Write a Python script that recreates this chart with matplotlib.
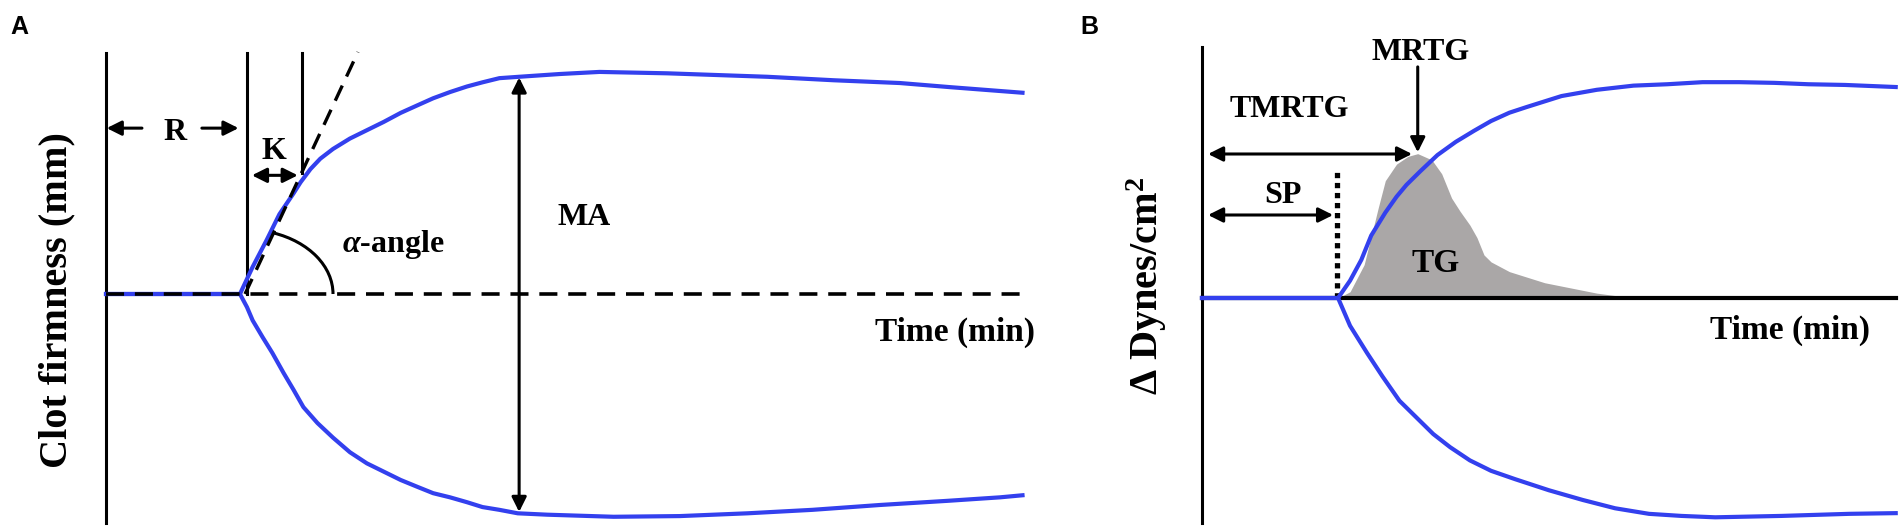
import numpy as np
import matplotlib
matplotlib.use('Agg')
import matplotlib.pyplot as plt
from matplotlib.patches import Arc

plt.rcParams['font.family'] = ['Liberation Serif', 'DejaVu Serif']
plt.rcParams['font.weight'] = 'bold'
plt.rcParams['mathtext.fontset'] = 'custom'
plt.rcParams['mathtext.rm'] = 'Liberation Serif:bold'
plt.rcParams['mathtext.it'] = 'Liberation Serif:italic:bold'
plt.rcParams['mathtext.bf'] = 'Liberation Serif:bold'

# ---- panel A : TEG trace (time in min, amplitude in mm) ----
a_time_up = [0, 9.5, 10.4, 11.4, 12.3, 13.3, 13.8, 14.5, 15.2, 16.1, 17.3, 18.5, 19.7,
             20.9, 22.1, 23.2, 24.4, 25.6, 26.7, 27.9, 29.3, 32.2, 35.0, 39.8, 46.9,
             51.6, 56.3, 59.9, 65.0]
a_upper = [0, 0, 3.9, 7.8, 11.5, 14.5, 16.1, 18.0, 19.5, 20.9, 22.4, 23.6, 24.8,
           26.1, 27.2, 28.2, 29.1, 29.9, 30.5, 31.1, 31.3, 31.7, 32.0, 31.8, 31.3,
           30.8, 30.4, 29.8, 29.0]
a_time_low = [0, 9.5, 10.0, 10.4, 11.1, 11.8, 12.6, 13.3, 14.0, 15.0, 16.1, 17.3, 18.5,
              19.7, 20.9, 22.1, 23.2, 24.4, 25.6, 26.7, 27.9, 29.2, 31.3, 36.0, 40.7,
              45.5, 50.1, 54.9, 59.7, 63.4, 65.0]
a_lower = [0, 0, -1.9, -3.8, -6.2, -8.5, -11.4, -13.8, -16.3, -18.6, -20.7, -22.8, -24.4,
           -25.6, -26.8, -27.8, -28.7, -29.3, -30.0, -30.7, -31.1, -31.6, -31.8, -32.1, -32.0,
           -31.6, -31.1, -30.4, -29.8, -29.3, -29.0]

# ---- panel B : trace plus thrombus generation ----
b_time_up = [0, 9.65, 10.5, 11.3, 12.0, 13.0, 13.8, 14.5, 15.5, 16.7, 18.0, 19.3, 20.5,
             21.8, 23.0, 25.5, 28.0, 30.6, 33.0, 35.5, 38.1, 40.6, 43.0, 45.6, 49.2]
b_upper = [0, 0, 2.5, 5.5, 9.0, 12.3, 14.6, 16.3, 18.3, 20.6, 22.5, 24.1, 25.5,
           26.7, 27.5, 29.1, 30.0, 30.6, 30.8, 31.1, 31.1, 31.0, 30.8, 30.7, 30.4]
b_time_low = [0, 9.65, 10.5, 11.7, 12.8, 14.0, 15.2, 16.4, 17.6, 19.0, 20.5, 22.2, 24.6,
              27.0, 29.3, 31.7, 34.0, 36.4, 41.1, 45.9, 49.2]
b_lower = [0, 0, -4.0, -7.9, -11.3, -14.8, -17.2, -19.6, -21.5, -23.4, -24.9, -26.1, -27.7,
           -29.1, -30.3, -31.1, -31.4, -31.6, -31.4, -31.1, -31.0]
tg_time = [9.65, 10.5, 11.5, 12.1, 12.5, 13.0, 13.8, 14.6, 15.3, 16.3, 17.0, 17.7,
           18.3, 19.0, 19.5, 20.0, 20.5, 21.8, 24.3, 28.0, 30.6]
tg_value = [0, 0.9, 4.8, 9.7, 13.0, 16.9, 19.3, 20.4, 20.8, 19.9, 17.9, 14.4,
            12.5, 10.5, 8.7, 6.2, 5.2, 3.8, 2.2, 0.7, 0]

W, H = 1902, 530
PX_MIN = 14.1
PX_MM = 6.94
BLUE = '#3340ee'
fig = plt.figure(figsize=(W / 100, H / 100), dpi=100)


def make_axes(x0_px, base_px, xlim, ylim):
    left = x0_px + xlim[0] * PX_MIN
    width = (xlim[1] - xlim[0]) * PX_MIN
    bottom_px = base_px - ylim[0] * PX_MM
    height = (ylim[1] - ylim[0]) * PX_MM
    ax = fig.add_axes([left / W, (H - bottom_px) / H, width / W, height / H])
    ax.set_xlim(*xlim)
    ax.set_ylim(*ylim)
    ax.axis('off')
    return ax


def arrow(ax, tail, head, both=False):
    ax.annotate('', xy=head, xytext=tail,
                arrowprops=dict(arrowstyle='<|-|>' if both else '-|>', color='black',
                                lw=2.2, mutation_scale=22, shrinkA=0, shrinkB=0))


# ---------------- A ----------------
ax = make_axes(106, 294, (-2, 67), (-35, 37))
ax.plot(a_time_up, a_upper, color=BLUE, lw=3, zorder=3, solid_joinstyle='round')
ax.plot(a_time_low, a_lower, color=BLUE, lw=3, zorder=3, solid_joinstyle='round')
ax.plot([0, 65.0], [0, 0], color='black', lw=2.6, ls=(0, (5, 3)), zorder=4)
ax.plot([0, 0], [-33.0, 34.7], color='black', lw=2.2)
ax.plot([10.0, 10.0], [0, 34.7], color='black', lw=2.2)
ax.plot([13.9, 13.9], [17.4, 34.7], color='black', lw=2.2)
tan0, tan1 = (9.86, 0), (17.87, 34.87)
ax.plot([tan0[0], tan1[0]], [tan0[1], tan1[1]], color='black', lw=2.4, ls=(0, (5, 3)), zorder=4)
ang = np.degrees(np.arctan2(tan1[1] - tan0[1], tan1[0] - tan0[0]))
ax.add_patch(Arc(tan0, 12.48, 18.6, theta1=0, theta2=ang, color='black', lw=2.2))
arrow(ax, (2.55, 23.9), (0.05, 23.9))
arrow(ax, (6.8, 23.9), (9.4, 23.9))
arrow(ax, (10.35, 17.1), (13.6, 17.1), both=True)
arrow(ax, (29.3, -31.4), (29.3, 31.2), both=True)
ax.text(4.9, 23.3, 'R', fontsize=23, ha='center', va='center')
ax.text(11.9, 20.5, 'K', fontsize=23, ha='center', va='center')
ax.text(20.4, 7.1, r'$\alpha$-angle', fontsize=23, ha='center', va='center')
ax.text(32.0, 11.0, 'MA', fontsize=23, ha='left', va='center')
ax.text(60.2, -5.5, 'Time (min)', fontsize=24, ha='center', va='center')
ax.text(-3.5, -0.9, 'Clot firmness (mm)', fontsize=29, rotation=90, ha='center', va='center')

# ---------------- B ----------------
bx = make_axes(1202, 298, (-2, 50.5), (-35, 37))
bx.fill_between(tg_time, tg_value, 0, color='#aaa7a7', lw=0, zorder=1)
bx.plot([0, 49.2], [0, 0], color='black', lw=3, zorder=2)
bx.plot(b_time_up, b_upper, color=BLUE, lw=3, zorder=3, solid_joinstyle='round')
bx.plot(b_time_low, b_lower, color=BLUE, lw=3, zorder=3, solid_joinstyle='round')
bx.plot([0, 0], [-32.4, 36.2], color='black', lw=2.2)
bx.plot([9.57, 9.57], [0, 18.4], color='black', lw=3.8, ls=(0, (1, 0.9)), zorder=2)
arrow(bx, (0.43, 20.75), (14.9, 20.75), both=True)
arrow(bx, (0.43, 11.96), (9.3, 11.96), both=True)
arrow(bx, (15.3, 33.3), (15.3, 21.0))
bx.text(6.2, 27.1, 'TMRTG', fontsize=23, ha='center', va='center')
bx.text(15.5, 35.4, 'MRTG', fontsize=23, ha='center', va='center')
bx.text(5.75, 14.8, 'SP', fontsize=23, ha='center', va='center')
bx.text(16.6, 5.0, 'TG', fontsize=24, ha='center', va='center')
bx.text(41.7, -4.6, 'Time (min)', fontsize=24, ha='center', va='center')
bx.text(-3.9, 1.7, r'$\Delta$ Dynes/cm$^2$', fontsize=29, rotation=90, ha='center', va='center')

fig.text(10 / W, 1 - 15 / H, 'A', family='Liberation Sans', fontsize=18, weight='bold', va='top')
fig.text(1080 / W, 1 - 15 / H, 'B', family='Liberation Sans', fontsize=18, weight='bold', va='top')

fig.savefig('out.png', dpi=100)
